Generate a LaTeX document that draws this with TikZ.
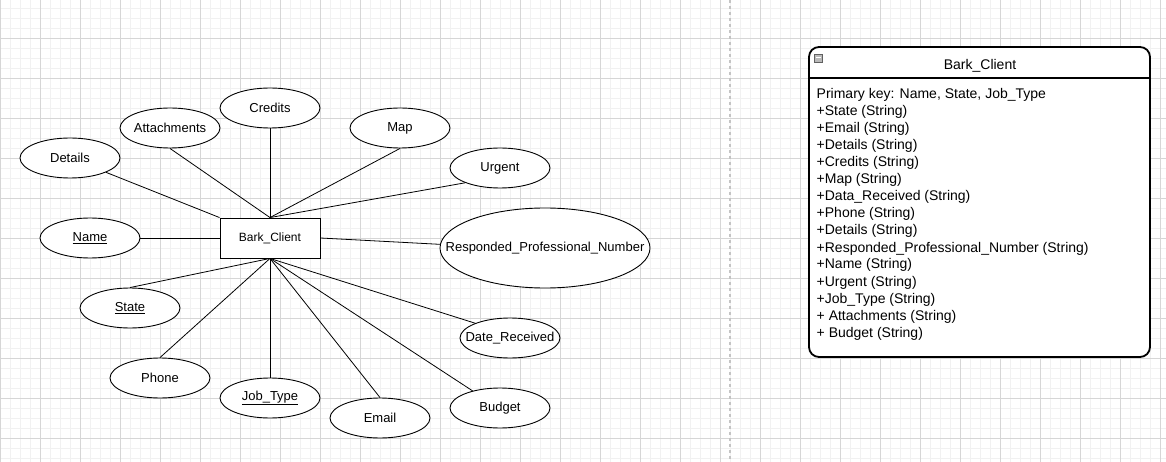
\documentclass[tikz,border=0pt]{standalone}
\usepackage{fontspec}
\setmainfont{Liberation Sans}
\usetikzlibrary{shapes.geometric}
\definecolor{gridminor}{HTML}{F1F1F1}
\definecolor{gridmajor}{HTML}{D6D6D6}
\definecolor{divider}{HTML}{C4C4C4}
\tikzset{
  attr/.style = {
    ellipse, draw, line width=0.9pt, fill=white,
    minimum width=100pt, minimum height=40pt, inner sep=0pt,
    font=\fontsize{13}{15}\selectfont,
    execute at begin node={\hbox to 0pt\bgroup\hss},
    execute at end node={\hss\egroup}
  },
  entity/.style = {
    rectangle, draw, line width=0.9pt, fill=white,
    minimum width=100pt, minimum height=40pt, inner sep=0pt,
    font=\fontsize{12}{14}\selectfont
  },
  link/.style = {line width=0.8pt},
  rowtext/.style = {anchor=base west, inner sep=0pt, font=\fontsize{14}{17}\selectfont}
}
\newcommand{\pk}[1]{\underline{#1}}

\begin{document}
\begin{tikzpicture}[x=1pt,y=-1pt]
  \useasboundingbox (0,0) rectangle (1166,462);
  % grid
  \foreach \x in {0,10,...,1160} \draw[gridminor,line width=0.8pt] (\x,0) -- (\x,462);
  \foreach \y in {8,18,...,458} \draw[gridminor,line width=0.8pt] (0,\y) -- (1166,\y);
  \foreach \x in {0,40,...,1160} \draw[gridmajor,line width=0.8pt] (\x,0) -- (\x,462);
  \foreach \y in {38,78,...,438} \draw[gridmajor,line width=0.8pt] (0,\y) -- (1166,\y);
  \draw[divider,line width=1.5pt,dash pattern=on 3pt off 3pt] (730,0) -- (730,462);
  % entity
  \node[entity] (client) at (270,238) {Bark\_Client};
  % attributes
  \node[attr] (name)    at (90,238)  {\pk{Name}};
  \node[attr] (details) at (70,158)  {Details};
  \node[attr] (attach)  at (170,128) {Attachments};
  \node[attr] (credits) at (270,108) {Credits};
  \node[attr] (map)     at (400,128) {Map};
  \node[attr] (urgent)  at (500,168) {Urgent};
  \node[attr,minimum width=210pt,minimum height=80pt] (resp) at (545,248) {Responded\_Professional\_Number};
  \node[attr] (date)    at (510,338) {Date\_Received};
  \node[attr] (budget)  at (500,408) {Budget};
  \node[attr] (email)   at (380,418) {Email};
  \node[attr] (jobtype) at (270,398) {\pk{Job\_Type}};
  \node[attr] (phone)   at (160,378) {Phone};
  \node[attr] (state)   at (130,308) {\pk{State}};
  % connectors
  \draw[link] (name) -- (client);
  \draw[link] (details) -- (client.north west);
  \draw[link] (attach.south) -- (client.north);
  \draw[link] (credits.south) -- (client.north);
  \draw[link] (map.south) -- (client.north);
  \draw[link] (urgent.203) -- (client.north);
  \draw[link] (client.east) -- (resp.178);
  \draw[link] (client.south) -- (date.157);
  \draw[link] (client.south) -- (budget.148);
  \draw[link] (client.south) -- (email.north);
  \draw[link] (client.south) -- (jobtype.north);
  \draw[link] (client.south) -- (phone.north);
  \draw[link] (client.south) -- (state.north);
  % table
  \node[draw,fill=white,line width=1.8pt,rounded corners=10pt,minimum width=341pt,minimum height=310pt,inner sep=0pt] (table) at (979.5,202) {};
  \coordinate (headl) at (809,78);
  \coordinate (headr) at (1150,78);
  \draw[line width=1.5pt] (headl) -- (headr);
  \node[font=\fontsize{14}{17}\selectfont,inner sep=0pt] (title) at (980,65.5) {Bark\_Client};
  \draw[gray!75!black,fill=gray!55,line width=0.5pt] (814,54) rectangle (822,62);
  \draw[white,line width=1pt] (815.5,58) -- (820.5,58);
  \foreach [count=\i] \t in {{Primary key: Name, State, Job\_Type},
      +State (String), +Email (String), +Details (String), +Credits (String),
      +Map (String), +Data\_Received (String), +Phone (String), +Details (String),
      +Responded\_Professional\_Number (String), +Name (String), +Urgent (String),
      +Job\_Type (String), + Attachments (String), + Budget (String)}
    \node[rowtext] (row\i) at (816.5,82+17*\i) {\t};
\end{tikzpicture}
\end{document}
